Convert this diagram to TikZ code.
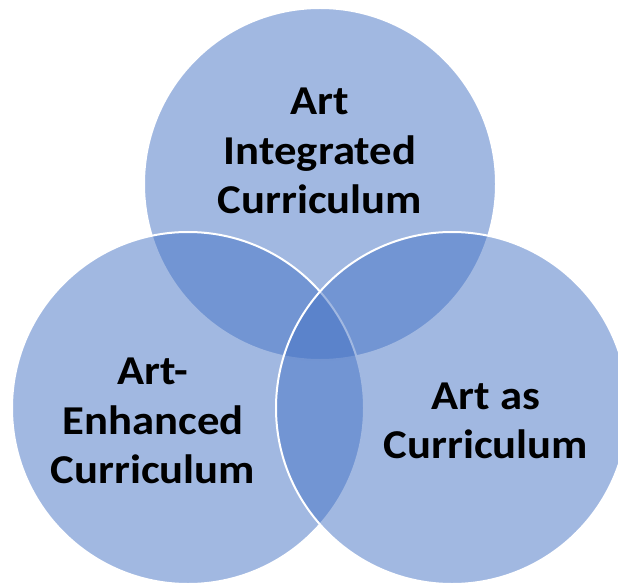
\documentclass[tikz,border=0pt]{standalone}
\usepackage{fontspec}
\setmainfont{Carlito}
\definecolor{vennblue}{HTML}{4472C4}
\begin{document}
\begin{tikzpicture}[x=1bp,y=-1bp,
  venn/.style={circle, minimum size=352bp, inner sep=0pt, fill=vennblue, fill opacity=0.5, draw=white, draw opacity=1, line width=2bp},
  lbl/.style={align=center, text=black, font=\bfseries\fontsize{41bp}{49.5bp}\selectfont, inner sep=0pt, text opacity=1, xscale=1.09}]
\useasboundingbox (0,0) rectangle (618,585);
\node[venn] (top) at (320,184) {};
\node[venn] (left) at (188,408) {};
\node[venn] (right) at (452,408) {};
\node[lbl] (ttop) at (320,151) {Art\\Integrated\\Curriculum};
\node[lbl] (tleft) at (153,421) {Art-\\Enhanced\\Curriculum};
\node[lbl] (tright) at (486,421) {Art as\\Curriculum};
\end{tikzpicture}
\end{document}
